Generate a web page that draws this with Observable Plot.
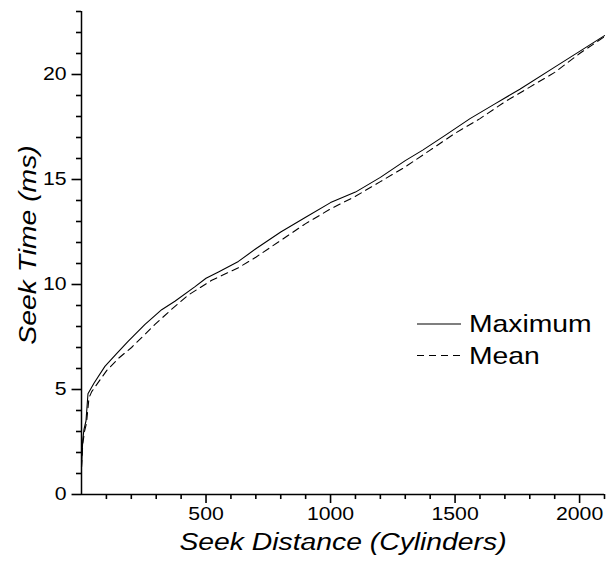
<!DOCTYPE html>
<html><head><meta charset="utf-8">
<script src="https://cdn.jsdelivr.net/npm/d3@7"></script>
<script src="https://cdn.jsdelivr.net/npm/@observablehq/plot@0.6"></script>
<style>
body{margin:0;background:#fff;}
#chart{position:relative;width:608px;height:563px;}
</style></head><body><div id="chart"></div>
<script>
// Seek distance (cylinders) and seek time (ms)
const maxDistance = [0, 5, 10, 18, 26, 50, 94, 140, 188, 255, 322, 375, 456, 500, 550, 630, 700, 800, 900, 1000, 1100, 1200, 1300, 1370, 1460, 1560, 1660, 1760, 1900, 2000, 2100];
const maxTime     = [1.3, 2.6, 3.1, 3.5, 4.8, 5.3, 6.1, 6.7, 7.3, 8.1, 8.8, 9.2, 9.9, 10.3, 10.6, 11.1, 11.7, 12.5, 13.2, 13.9, 14.4, 15.1, 15.9, 16.4, 17.1, 17.9, 18.6, 19.3, 20.35, 21.1, 21.85];
const meanDistance = [0, 5, 12, 20, 30, 41, 101, 150, 201, 295, 360, 429, 523, 630, 700, 800, 900, 1000, 1100, 1200, 1300, 1400, 1500, 1600, 1700, 1800, 1900, 2000, 2100];
const meanTime     = [1.3, 2.4, 3.0, 3.4, 4.6, 4.9, 5.9, 6.5, 7.0, 8.1, 8.8, 9.5, 10.2, 10.8, 11.3, 12.1, 12.9, 13.6, 14.2, 14.9, 15.6, 16.4, 17.2, 17.9, 18.7, 19.4, 20.1, 21.0, 21.8];

const xMajorTicks = [500, 1000, 1500, 2000];
const xMinorTicks = [100, 200, 300, 400, 600, 700, 800, 900, 1100, 1200, 1300, 1400, 1600, 1700, 1800, 1900, 2100];
const yMajorTicks = [0, 5, 10, 15, 20];
const yMinorTicks = [1, 2, 3, 4, 6, 7, 8, 9, 11, 12, 13, 14, 16, 17, 18, 19, 21, 22, 23];

const seriesNames = ["Maximum", "Mean"];
const xTitle = "Seek Distance (Cylinders)";
const yTitle = "Seek Time (ms)";

const maxData = maxDistance.map((d, i) => ({x: d, y: maxTime[i]}));
const meanData = meanDistance.map((d, i) => ({x: d, y: meanTime[i]}));

const font = "'Liberation Sans', Arial, Helvetica, sans-serif";
const W = 608, H = 563, mL = 81, mR = 4, mT = 11, mB = 69;

// tick lengths expressed in data units of the opposite scale
const xMinorLen = 0.24, xMajorLen = 0.43;   // y units below 0
const yMinorLen = 20, yMajorLen = 38;       // x units left of 0

const plot = Plot.plot({
  width: W, height: H,
  marginLeft: mL, marginRight: mR, marginTop: mT, marginBottom: mB,
  x: {domain: [0, 2100]},
  y: {domain: [0, 23]},
  style: {fontFamily: font},
  marks: [
    Plot.ruleX([0], {stroke: "black", strokeWidth: 1.5}),
    Plot.ruleY([0], {stroke: "black", strokeWidth: 1.5}),
    // tick marks
    Plot.ruleX(xMinorTicks, {x: d => d, y1: 0, y2: -xMinorLen, stroke: "black", strokeWidth: 1.6}),
    Plot.ruleX(xMajorTicks, {x: d => d, y1: 0, y2: -xMajorLen, stroke: "black", strokeWidth: 1.6}),
    Plot.ruleY(yMinorTicks, {y: d => d, x1: 0, x2: -yMinorLen, stroke: "black", strokeWidth: 1.6}),
    Plot.ruleY(yMajorTicks, {y: d => d, x1: 0, x2: -yMajorLen, stroke: "black", strokeWidth: 1.6}),
    // tick labels
    Plot.axisX({ticks: xMajorTicks, tickSize: 0, tickPadding: 13, fill: "black", fontSize: 18, tickFormat: d => String(d), label: null}),
    Plot.axisY({ticks: yMajorTicks, tickSize: 0, tickPadding: 15, fill: "black", fontSize: 18, tickFormat: d => String(d), label: null}),
    Plot.line(maxData, {x: "x", y: "y", stroke: "black", strokeWidth: 1.1}),
    Plot.line(meanData, {x: "x", y: "y", stroke: "black", strokeWidth: 1.1, strokeDasharray: "7,5"}),
    Plot.text([xTitle], {frameAnchor: "bottom", dy: 48, lineAnchor: "middle", textAnchor: "middle", fill: "black", fontSize: 24, fontStyle: "italic"}),
    Plot.text([yTitle], {frameAnchor: "left", dx: -53, dy: -8, rotate: -90, lineAnchor: "middle", textAnchor: "middle", fill: "black", fontSize: 24, fontStyle: "italic"})
  ]
});

const svg = d3.select(plot);

// legend
const lg = svg.append("g").attr("font-family", font).attr("font-size", 24).attr("text-anchor", "start");
const legendItems = [
  {name: seriesNames[0], dash: null, y: 324},
  {name: seriesNames[1], dash: "7,5", y: 355.5}
];
legendItems.forEach(it => {
  lg.append("line").attr("x1", 417).attr("x2", 461).attr("y1", it.y).attr("y2", it.y)
    .attr("stroke", "black").attr("stroke-width", 1.1).attr("stroke-dasharray", it.dash);
  lg.append("text").attr("transform", `translate(469,${it.y + 8})`).attr("fill", "black").attr("text-anchor", "start").text(it.name);
});

// widen glyphs slightly to match reference rendering
plot.querySelectorAll("text").forEach(t => {
  const tr = t.getAttribute("transform") || "";
  t.setAttribute("transform", tr + " scale(1.18,1)");
});

document.getElementById("chart").appendChild(plot);
</script></body></html>
